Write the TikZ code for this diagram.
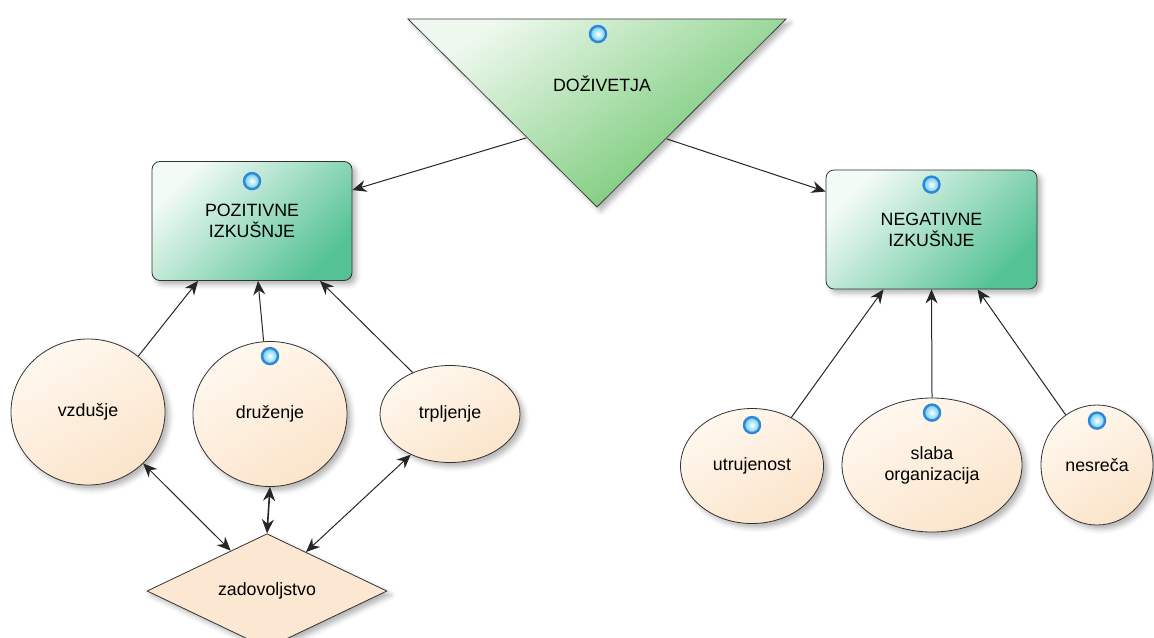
\documentclass[tikz,border=0pt]{standalone}
\usepackage{fontspec}
\setmainfont{Liberation Sans}
\usetikzlibrary{shapes.geometric,arrows.meta,shadows.blur}

\definecolor{boxhi}{HTML}{F3FBF6}
\definecolor{boxlo}{HTML}{55C295}
\definecolor{trihi}{HTML}{EEF8EE}
\definecolor{trilo}{HTML}{68C468}
\definecolor{ovalhi}{HTML}{FFF8EF}
\definecolor{ovallo}{HTML}{FBE4CA}
\definecolor{beadrim}{HTML}{2F86D6}

\begin{document}
\begin{tikzpicture}[x=0.5pt,y=-0.5pt,
	font=\fontsize{8.9}{10.4}\selectfont,
	soft/.style={blur shadow={shadow xshift=2pt, shadow yshift=-2pt, shadow blur radius=2.5pt, shadow opacity=30}},
	topic/.style={draw=black!80, rounded corners=4pt, top color=boxhi, bottom color=boxlo, shading angle=45, soft, align=center, inner sep=0pt},
	oval/.style={ellipse, draw=black!80, top color=ovalhi, bottom color=ovallo, shading angle=30, soft, align=center, inner sep=0pt},
	rhomb/.style={diamond, draw=black!80, fill=ovallo!85!white, soft, inner sep=0pt},
	bead/.style={circle, minimum size=8pt, inner sep=0pt, draw=beadrim, line width=1.2pt, inner color=white, outer color=cyan!40!beadrim!70},
	link/.style={draw=black!85, line width=0.5pt, -{Stealth[length=7pt,width=6pt]}},
	both/.style={link, {Stealth[length=7pt,width=6pt]}-{Stealth[length=7pt,width=6pt]}}
	]
	
	% Frame
	\useasboundingbox (0,0) rectangle (1154,637);
	
	%% TOP
	% Triangle
	\shade [draw=black!75, top color=trihi, bottom color=trilo, shading angle=35, soft] (408,19) -- (786,19) -- (597,207) -- cycle;
	\node (doz) at (602,84) {DOŽIVETJA};
	\node [bead] (dozdot) at (598,34) {};
	\coordinate (dozl) at (526,138);
	\coordinate (dozr) at (667,139);
	
	%% POSITIVE SIDE
	% Main
	\node [topic, minimum width=100pt, minimum height=59.5pt] (pos) at (252,221) {POZITIVNE\\IZKUŠNJE};
	
	% Causes
	\node [oval, minimum width=77pt, minimum height=73pt]   (vzd) at (88,412)  {vzdušje};
	\node [oval, minimum width=77pt, minimum height=72.5pt] (dru) at (270,414) {druženje};
	\node [oval, minimum width=70pt, minimum height=48.5pt] (trp) at (450,414) {trpljenje};
	\node [rhomb, minimum width=120pt, minimum height=46pt] (zad) at (267,591) {zadovoljstvo};
	
	%% NEGATIVE SIDE
	% Main
	\node [topic, minimum width=105.5pt, minimum height=59.5pt] (neg) at (931.5,229.5) {NEGATIVNE\\IZKUŠNJE};
	
	% Causes
	\node [oval, minimum width=71.5pt, minimum height=57.5pt] (utr) at (752,466)  {utrujenost};
	\node [oval, minimum width=90pt, minimum height=67pt]     (sla) at (932,465)  {slaba\\organizacija};
	\node [oval, minimum width=56pt, minimum height=60pt]     (nes) at (1097,465) {nesreča};
	
	% Beads
	\foreach \n/\d in {pos/10pt, neg/7.5pt, dru/7.5pt, utr/8.5pt, sla/7.5pt, nes/8pt}
	{
		\node [bead] (\n dot) at ([yshift=-\d]\n.north) {};
	}
	
	%% CONNECTORS
	\draw [link] (dozl) -- ([yshift=15.5pt]pos.east);
	\draw [link] (dozr) -- ([yshift=19pt]neg.west);
	
	\draw [link] (vzd.48)  -- ([xshift=-27pt]pos.south);
	\draw [link] (dru.95)  -- ([xshift=3pt]pos.south);
	\draw [link] (trp.132) -- ([xshift=34pt]pos.south);
	
	\draw [both] (vzd.-43)  -- (zad.132);
	\draw [both, line width=0.8pt] (dru.south) -- (zad.north);
	\draw [both] (trp.-134) -- (zad.45);
	
	\draw [link] (utr.51)  -- ([xshift=-24pt]neg.south);
	\draw [link] (sla.north) -- (neg.south);
	\draw [link] (nes.122) -- ([xshift=23pt]neg.south);
	
\end{tikzpicture}
\end{document}
